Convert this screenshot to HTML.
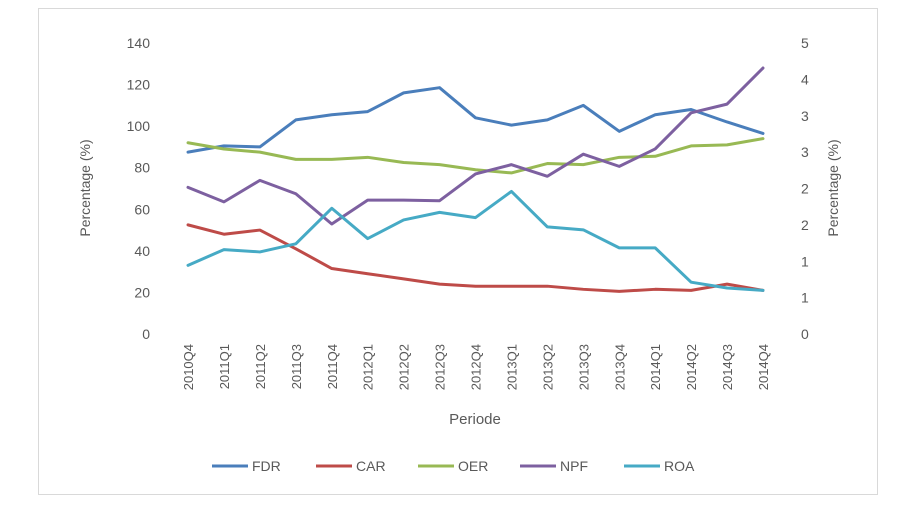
<!DOCTYPE html>
<html><head><meta charset="utf-8"><style>
body{margin:0;background:#fff;font-family:"Liberation Sans",sans-serif;}
svg text{font-family:"Liberation Sans",sans-serif;fill:#595959;}
</style></head><body>
<svg id="chart" width="915" height="511" xmlns="http://www.w3.org/2000/svg">
<rect x="38.5" y="8.5" width="839" height="486" fill="#fff" stroke="#d9d9d9"/>
<g id="g"></g>
</svg>
<script>
const categories=["2010Q4","2011Q1","2011Q2","2011Q3","2011Q4","2012Q1","2012Q2","2012Q3","2012Q4","2013Q1","2013Q2","2013Q3","2013Q4","2014Q1","2014Q2","2014Q3","2014Q4"];
const fdr=[87.5,90.5,90,103,105.5,107,116,118.5,104,100.5,103,110,97.5,105.5,108,102,96.5];
const car=[52.5,48,50,41,31.5,29,26.5,24,23,23,23,21.5,20.5,21.5,21,24,21];
const oer=[92,89,87.5,84,84,85,82.5,81.5,79,77.5,82,81.5,85,85.5,90.5,91,94];
const npf=[2.52,2.27,2.64,2.41,1.89,2.30,2.30,2.29,2.75,2.91,2.71,3.09,2.88,3.18,3.80,3.95,4.57];
const roa=[1.18,1.45,1.41,1.55,2.16,1.64,1.96,2.09,2.0,2.45,1.84,1.79,1.48,1.48,0.89,0.79,0.75];
const leftTicks=[0,20,40,60,80,100,120,140];
const rightTickLabels=["0","1","1","2","2","3","3","4","5"];
const NS="http://www.w3.org/2000/svg";
const g=document.getElementById('g');
const x0=188,x1=763,yTop=43,yBot=334;
const xs=i=>x0+(x1-x0)*i/(categories.length-1);
const yL=v=>yBot-(yBot-yTop)*v/140;
const yR=v=>yBot-(yBot-yTop)*v/5;
function el(t,a,txt){const e=document.createElementNS(NS,t);for(const k in a)e.setAttribute(k,a[k]);if(txt!==undefined)e.textContent=txt;g.appendChild(e);return e;}
leftTicks.forEach(v=>{const e=el('text',{x:150,y:yL(v)+5,'text-anchor':'end','font-size':14},String(v));

});
rightTickLabels.forEach((l,i)=>{const e=el('text',{x:801,y:yBot-(yBot-yTop)*i/8+5,'text-anchor':'start','font-size':14},l);

});
categories.forEach((c,i)=>{const x=xs(i);const e=el('text',{x:0,y:0,transform:`translate(${x+5},344) rotate(-90)`,'text-anchor':'end','font-size':13},c);

});
let t=el('text',{x:0,y:0,transform:'translate(90,188) rotate(-90)','text-anchor':'middle','font-size':14},'Percentage (%)');


t=el('text',{x:0,y:0,transform:'translate(838,188) rotate(-90)','text-anchor':'middle','font-size':14},'Percentage (%)');


t=el('text',{x:475,y:424,'text-anchor':'middle','font-size':15},'Periode');


const series=[["FDR",fdr,"#4a7ebb",yL],["CAR",car,"#be4b48",yL],["OER",oer,"#98b954",yL],["NPF",npf,"#7d60a0",yR],["ROA",roa,"#46aac5",yR]];
series.forEach(([n,d,c,f])=>{const p=el('polyline',{points:d.map((v,i)=>xs(i)+','+f(v)).join(' '),fill:'none',stroke:c,'stroke-width':3,'stroke-linejoin':'round','stroke-linecap':'round'});

});
const lx=[212,316,418,520,624];
series.forEach(([n,d,c],i)=>{const l=el('line',{x1:lx[i],y1:466,x2:lx[i]+36,y2:466,stroke:c,'stroke-width':3});


const tx=el('text',{x:lx[i]+40,y:471,'font-size':14},n);

});
</script>
</body></html>
